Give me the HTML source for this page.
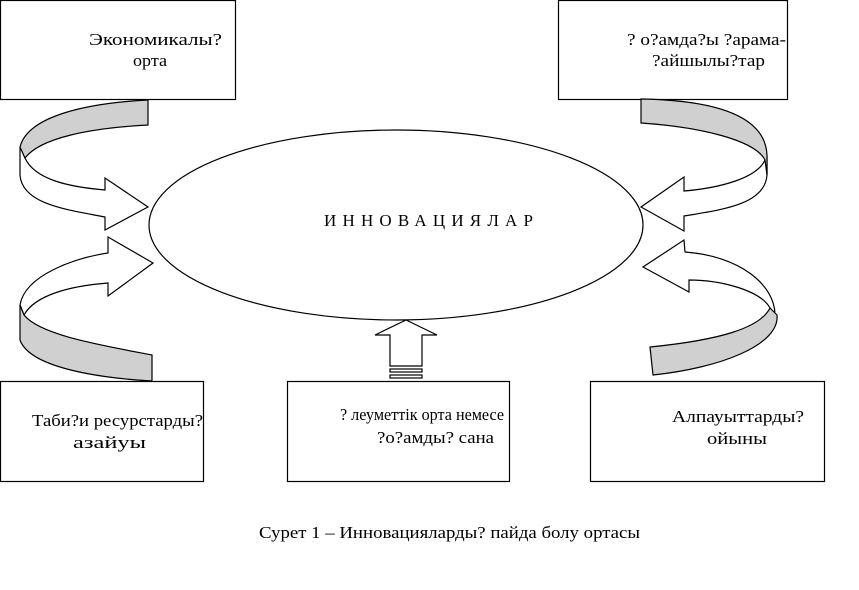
<!DOCTYPE html>
<html><head><meta charset="utf-8"><style>
body{margin:0;background:#fff;width:859px;height:590px;overflow:hidden}
svg{display:block}
text{font-family:"Liberation Serif",serif;font-size:17px;fill:#000}
</style></head><body>
<svg width="859" height="590" viewBox="0 0 859 590">
<g fill="#fff" stroke="#000" stroke-width="1.2">
<rect x="0.5" y="0.5" width="235" height="99"/>
<rect x="558.5" y="0.5" width="229" height="99"/>
<rect x="0.5" y="381.5" width="203" height="100"/>
<rect x="287.5" y="381.5" width="222" height="100"/>
<rect x="590.5" y="381.5" width="234" height="100"/>
<ellipse cx="396" cy="225" rx="247" ry="95"/>
<path d="M20,147 L20,175 C22,205 70,210 105,217 L105,230 L148,207 L105,178 L105,190 C70,187 35,180 25,158 Z"/>
<path fill="#d0d0d0" d="M148,100 L148,125 C90,128 40,138 25,158 L20,147 C28,115 90,103 148,100 Z"/>
<path d="M108,253 L108,237 L153,263 L108,296 L108,283 C70,286 35,295 24,315 L20,305 C25,275 75,258 108,253 Z"/>
<path fill="#d0d0d0" d="M20,305 L24,315 C40,335 100,345 152,355 L152,381 C100,378 30,368 20,340 Z"/>
<path d="M767,158 L767,175 C765,205 720,210 684,216 L684,231 L641,207 L684,177 L684,191 C720,188 757,178 765,160 Z"/>
<path fill="#d0d0d0" d="M641,99 L641,123 C700,127 755,140 765,160 L767,175 L767,155 C765,110 700,100 641,99 Z"/>
<path d="M685,252 L684,240 L643,267 L689,292 L689,280 C720,280 760,290 770,308 L775,315 C775,285 740,256 685,252 Z"/>
<path fill="#d0d0d0" d="M770,308 L777,315 C780,345 720,368 653,375 L650,347 C720,340 760,328 770,308 Z"/>
<path d="M406,320 L437,335 L422,335 L422,366 L390,366 L390,335 L375,335 Z"/>
<rect x="390" y="369" width="32" height="3"/>
<rect x="390" y="375" width="32" height="3"/>
</g>
<text x="89" y="45" textLength="133" lengthAdjust="spacingAndGlyphs">Экономикалы?</text>
<text x="133" y="66" textLength="34" lengthAdjust="spacingAndGlyphs">орта</text>
<text x="627" y="45" textLength="159" lengthAdjust="spacingAndGlyphs">? о?амда?ы ?арама-</text>
<text x="652" y="66" textLength="113" lengthAdjust="spacingAndGlyphs">?айшылы?тар</text>
<text x="324" y="226" textLength="209" lengthAdjust="spacing">ИННОВАЦИЯЛАР</text>
<text x="32" y="426" textLength="171" lengthAdjust="spacingAndGlyphs">Таби?и ресурстарды?</text>
<text x="73" y="448" textLength="73" lengthAdjust="spacingAndGlyphs">азайуы</text>
<text x="340" y="420" textLength="164" lengthAdjust="spacingAndGlyphs">? леуметтік орта немесе</text>
<text x="377" y="443" textLength="117" lengthAdjust="spacingAndGlyphs">?о?амды? сана</text>
<text x="672" y="422" textLength="132" lengthAdjust="spacingAndGlyphs">Алпауыттарды?</text>
<text x="707" y="444" textLength="60" lengthAdjust="spacingAndGlyphs">ойыны</text>
<text x="259" y="538" textLength="381" lengthAdjust="spacingAndGlyphs">Сурет 1 – Инновацияларды? пайда болу ортасы</text>
</svg>
</body></html>
